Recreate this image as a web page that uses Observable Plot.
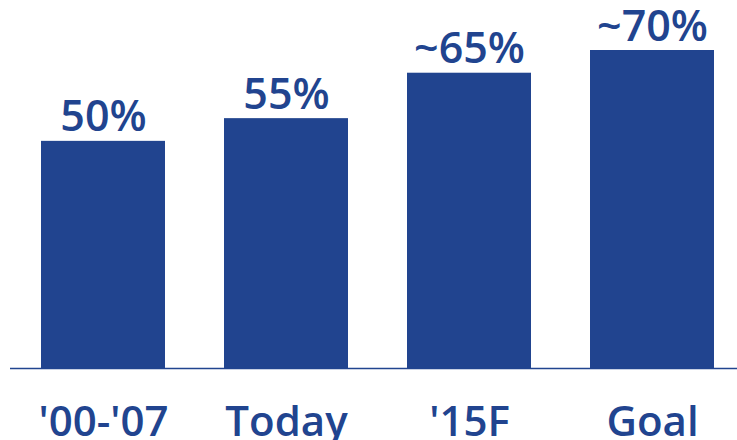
<!DOCTYPE html>
<html>
<head>
<meta charset="utf-8">
<script src="https://cdn.jsdelivr.net/npm/d3@7"></script>
<script src="https://cdn.jsdelivr.net/npm/@observablehq/plot@0.6"></script>
<style>
  html, body { margin: 0; padding: 0; background: #fff; }
  svg { display: block; }
</style>
</head>
<body>
<div id="chart"></div>
<script>
const categories = ["'00-'07", "Today", "'15F", "Goal"];
const values = [50, 55, 65, 70];
const valueLabels = ["50%", "55%", "~65%", "~70%"];

const blue = "#21448f";
const font = "'Open Sans', sans-serif";

const data = categories.map((c, i) => ({cat: c, value: values[i], label: valueLabels[i]}));

const chart = Plot.plot({
  width: 737,
  height: 440,
  marginLeft: 10,
  marginRight: 0,
  marginTop: 0,
  marginBottom: 72,
  style: {fontFamily: font, background: "#fff"},
  x: {domain: categories, paddingInner: 0.3236, paddingOuter: 0.1445, align: 0.566, axis: null},
  y: {domain: [0, 70], range: [368, 50], axis: null},
  marks: [
    Plot.barY(data, {x: "cat", y: "value", fill: blue}),
    Plot.ruleY([0], {stroke: blue, strokeWidth: 1.5}),
    Plot.text(data, {x: "cat", y: "value", text: "label", fill: blue, fontSize: 43, fontWeight: 600, lineAnchor: "bottom", dy: -10}),
    Plot.text(data, {x: "cat", text: "cat", frameAnchor: "bottom", fill: blue, fontSize: 42, fontWeight: 600, lineAnchor: "bottom", dy: 67})
  ]
});
document.getElementById("chart").appendChild(chart);
</script>
</body>
</html>
